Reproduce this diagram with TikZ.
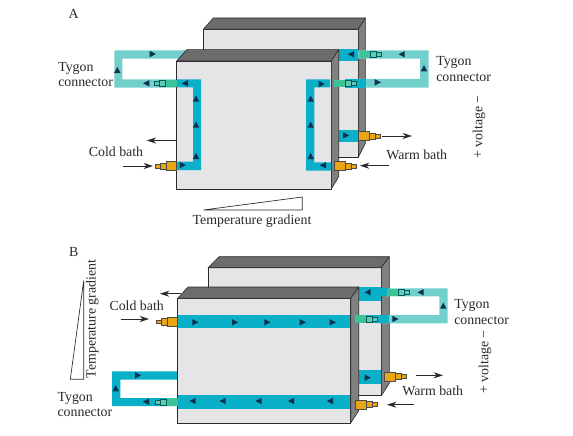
\documentclass[tikz,border=0pt]{standalone}
\usepackage{fontspec}
\setmainfont{Liberation Serif}
\usetikzlibrary{arrows.meta}
\definecolor{tubeblue}{HTML}{0AAFC8}
\definecolor{tubelight}{HTML}{72D0CC}
\definecolor{tubegreen}{HTML}{3CC498}
\definecolor{smallgreen}{HTML}{5CCBB8}
\definecolor{fitorange}{HTML}{E8A614}
\definecolor{paneface}{HTML}{E5E5E7}
\definecolor{topface}{HTML}{6C6C6C}
\definecolor{sideface}{HTML}{808080}
\definecolor{ink}{HTML}{2A2A2A}
\definecolor{flowmark}{HTML}{0B3350}
\tikzset{
  panel/.style={fill=paneface,draw=ink,line width=.55pt,line join=round},
  paneltop/.style={fill=topface,draw=ink,line width=.45pt,line join=round},
  panelside/.style={fill=sideface,draw=ink,line width=.45pt,line join=round},
  tube/.style={fill=tubeblue,draw=none},
  tygon/.style={fill=tubelight,draw=none},
  fitting/.style={fill=fitorange,draw=ink!85,line width=.4pt},
  greensmall/.style={fill=smallgreen,draw=teal!70!black,line width=.4pt},
  flow/.style={-{Stealth[length=7pt,width=4.5pt]},draw=ink,line width=.6pt},
  txt/.style={font=\fontsize{10.4pt}{11pt}\selectfont,text=ink,inner sep=0pt},
  ltxt/.style={txt,anchor=west},
  gradwedge/.style={draw=ink,line width=.5pt,fill=white}
}
\newcommand{\tR}[2]{\fill[flowmark] (#1-3,#2-3.2) -- (#1+3.2,#2) -- (#1-3,#2+3.2) -- cycle;}
\newcommand{\tL}[2]{\fill[flowmark] (#1+3,#2-3.2) -- (#1-3.2,#2) -- (#1+3,#2+3.2) -- cycle;}
\newcommand{\tU}[2]{\fill[flowmark] (#1-3.2,#2+3) -- (#1,#2-3.2) -- (#1+3.2,#2+3) -- cycle;}
\newcommand{\fitR}[2]{%
  \draw[fitting] (#1,#2-4.7) rectangle (#1+11,#2+4.7);
  \draw[fitting] (#1+11,#2-3.2) rectangle (#1+17,#2+3.2);
  \draw[fitting] (#1+17,#2-1.9) rectangle (#1+22,#2+1.9);}
\newcommand{\fitL}[2]{%
  \draw[fitting] (#1,#2-4.7) rectangle (#1-10,#2+4.7);
  \draw[fitting] (#1-10,#2-3.2) rectangle (#1-16,#2+3.2);
  \draw[fitting] (#1-16,#2-1.9) rectangle (#1-21,#2+1.9);}
\newcommand{\grnR}[2]{%
  \fill[tubegreen] (#1,#2-3.8) rectangle (#1+11,#2+3.8);
  \draw[greensmall] (#1+11,#2-3) rectangle (#1+17,#2+3);
  \draw[greensmall] (#1+17,#2-1.8) rectangle (#1+22,#2+1.8);}
\newcommand{\grnL}[2]{%
  \fill[tubegreen] (#1,#2-3.8) rectangle (#1-11,#2+3.8);
  \draw[greensmall] (#1-11,#2-3) rectangle (#1-17,#2+3);
  \draw[greensmall] (#1-17,#2-1.8) rectangle (#1-22,#2+1.8);}
\begin{document}
\begin{tikzpicture}[x=.75pt,y=-.75pt]
\useasboundingbox (0,0) rectangle (573,435);
\fill[white] (0,0) rectangle (573,435);

% ===== Panel A =====
\node[txt] (lblA) at (73.7,14) {A};
% back box
\draw[panel] (203.3,29.3) rectangle (358.3,157.3);
\draw[paneltop] (203.3,29.3) -- (213.3,18) -- (365.3,18) -- (358.3,29.3) -- cycle;
\draw[panelside] (358.3,29.3) -- (365.3,18) -- (365.3,143.3) -- (358.3,157.3) -- cycle;
% left loop
\fill[tygon] (114.3,50.3) -- (186,50.3) -- (186,58.7) -- (122.3,58.7) -- (122.3,79.3) -- (177,79.3) -- (177,87.5) -- (114.3,87.5) -- cycle;
% right loop and back stubs
\fill[tygon] (358,50.3) -- (428.7,50.3) -- (428.7,87.5) -- (345,87.5) -- (345,78.9) -- (420,78.9) -- (420,58.7) -- (358,58.7) -- cycle;
\fill[tube] (345,79) rectangle (366,87.5);
\fill[tube] (339,49) rectangle (358.3,61);
\fill[tube] (339,130) rectangle (358.3,142);
\grnR{359.3}{54.5}
\fitR{358.3}{136}
% front box
\draw[panel] (176.7,61) rectangle (331.3,189);
\draw[paneltop] (176.7,61) -- (186.7,49.7) -- (338.7,49.7) -- (331.3,61) -- cycle;
\draw[panelside] (331.3,61) -- (338.7,49.7) -- (338.7,176.7) -- (331.3,189) -- cycle;
% front tubes
\fill[tube] (176.9,79.3) -- (201,79.3) -- (201,170) -- (176.9,170) -- (176.9,161.7) -- (193,161.7) -- (193,87.4) -- (176.9,87.4) -- cycle;
\fill[tube] (330,79.3) -- (306,79.3) -- (306,170.7) -- (331,170.7) -- (331,162.3) -- (314.3,162.3) -- (314.3,87.4) -- (330,87.4) -- cycle;
% green and orange fittings
\grnL{176.7}{83.4}
\grnR{334.3}{83.4}
\fitL{176.7}{166}
\fitR{334.3}{166}
% flow marks
\tU{117.3}{70}\tR{152.7}{54}\tL{146.3}{83.3}\tL{185}{83.3}
\tU{196}{98.7}\tU{196}{124.7}\tU{196}{156}\tR{182.7}{165}
\tL{351}{54.3}\tL{401.7}{54.3}\tU{424}{68.3}\tR{377.7}{82.3}
\tR{321.7}{84}\tU{310.7}{98.7}\tU{310.7}{124.7}\tU{310.7}{156}
\tL{323}{165.3}\tR{346}{135.3}
% bath arrows
\coordinate (aColdOutS) at (176.7,140.5);
\coordinate (aColdOutE) at (146.7,140.5);
\coordinate (aColdInS) at (123,166);
\coordinate (aColdInE) at (153,166);
\coordinate (aWarmOutS) at (382,136);
\coordinate (aWarmOutE) at (412,136);
\coordinate (aWarmInS) at (389,165.7);
\coordinate (aWarmInE) at (360,165.7);
\draw[flow] (aColdOutS) -- (aColdOutE);
\draw[flow] (aColdInS) -- (aColdInE);
\draw[flow] (aWarmOutS) -- (aWarmOutE);
\draw[flow] (aWarmInS) -- (aWarmInE);
% labels
\node[ltxt] (aTyL1) at (58,68) {Tygon};
\node[ltxt] (aTyL2) at (58,83) {connector};
\node[ltxt] (aTyR1) at (436,62.7) {Tygon};
\node[ltxt] (aTyR2) at (436,78) {connector};
\node[txt] (aCold) at (116,151.7) {Cold bath};
\node[txt] (aWarm) at (416.7,155) {Warm bath};
\node[txt,rotate=90] (aVolt) at (479,127) {+ voltage −};
\draw[gradwedge] (203.3,210) -- (302.3,210) -- (302.3,197) -- cycle;
\node[txt] (aGrad) at (252,221.5) {Temperature gradient};

% ===== Panel B =====
\node[txt] (lblB) at (73.7,251.7) {B};
% back box
\draw[panel] (208,267.7) rectangle (381.3,395.7);
\draw[paneltop] (208,267.7) -- (219,256.7) -- (389.3,256.7) -- (381.3,267.7) -- cycle;
\draw[panelside] (381.3,267.7) -- (389.3,256.7) -- (389.3,383.3) -- (381.3,395.7) -- cycle;
% right loop
\fill[tygon] (385,288.3) -- (447.7,288.3) -- (447.7,323.3) -- (378,323.3) -- (378,315) -- (439.3,315) -- (439.3,296.3) -- (385,296.3) -- cycle;
\fill[tube] (366,315) rectangle (389.3,323.3);
\fill[tube] (358.7,287.3) rectangle (381.3,300.7);
\fill[tube] (381.3,288.3) rectangle (389.3,296.3);
\fill[tube] (358.7,370.3) rectangle (381.3,384);
\grnR{387}{292.3}
\fitR{384}{376.5}
% left loop
\fill[tube] (177.9,371.3) -- (112,371.3) -- (112,406) -- (177.9,406) -- (177.9,398) -- (120.3,398) -- (120.3,379.7) -- (177.9,379.7) -- cycle;
% front box
\draw[panel] (177.7,298.3) rectangle (350.7,423);
\draw[paneltop] (177.7,298.3) -- (188,287) -- (358.7,287) -- (350.7,298.3) -- cycle;
\draw[panelside] (350.7,298.3) -- (358.7,287) -- (358.7,410.7) -- (350.7,423) -- cycle;
% front tubes
\fill[tube] (178,315) rectangle (350.4,328.3);
\fill[tube] (178,395.3) rectangle (350.4,409);
% fittings
\grnL{177.7}{402.2}
\grnR{355.3}{319.2}
\fitL{177.7}{321.7}
\fitR{355.3}{404.5}
% flow marks
\tR{195.3}{322.3}\tR{235}{322.3}\tR{267.3}{322.3}\tR{302.7}{322.3}\tR{332.7}{322.3}
\tL{192.7}{401}\tL{222.7}{401}\tL{258.7}{401}\tL{291}{401}\tL{330}{401}
\tR{138}{375.3}\tU{115.7}{388.3}\tL{146}{401.7}
\tL{367.7}{292.3}\tL{420.7}{292.3}\tU{443.3}{305.7}\tR{395.3}{319}\tR{367.7}{377.7}
% bath arrows
\coordinate (bColdOutS) at (180.7,293.7);
\coordinate (bColdOutE) at (160,293.7);
\coordinate (bColdInS) at (120.7,319);
\coordinate (bColdInE) at (149,319);
\coordinate (bWarmOutS) at (416,375.3);
\coordinate (bWarmOutE) at (443,375.3);
\coordinate (bWarmInS) at (414,404.7);
\coordinate (bWarmInE) at (387,404.7);
\draw[flow] (bColdOutS) -- (bColdOutE);
\draw[flow] (bColdInS) -- (bColdInE);
\draw[flow] (bWarmOutS) -- (bWarmOutE);
\draw[flow] (bWarmInS) -- (bWarmInE);
% labels
\node[ltxt] (bTyL1) at (57.3,398) {Tygon};
\node[ltxt] (bTyL2) at (57.3,413) {connector};
\node[ltxt] (bTyR1) at (454,305) {Tygon};
\node[ltxt] (bTyR2) at (454,320.5) {connector};
\node[txt] (bCold) at (136.7,306) {Cold bath};
\node[txt] (bWarm) at (432.7,390.7) {Warm bath};
\node[txt,rotate=90] (bVolt) at (485,362) {+ voltage −};
\draw[gradwedge] (83.7,280.7) -- (70.3,379.3) -- (83.7,379.3) -- cycle;
\node[txt,rotate=90] (bGrad) at (92.3,319) {Temperature gradient};
\end{tikzpicture}
\end{document}
